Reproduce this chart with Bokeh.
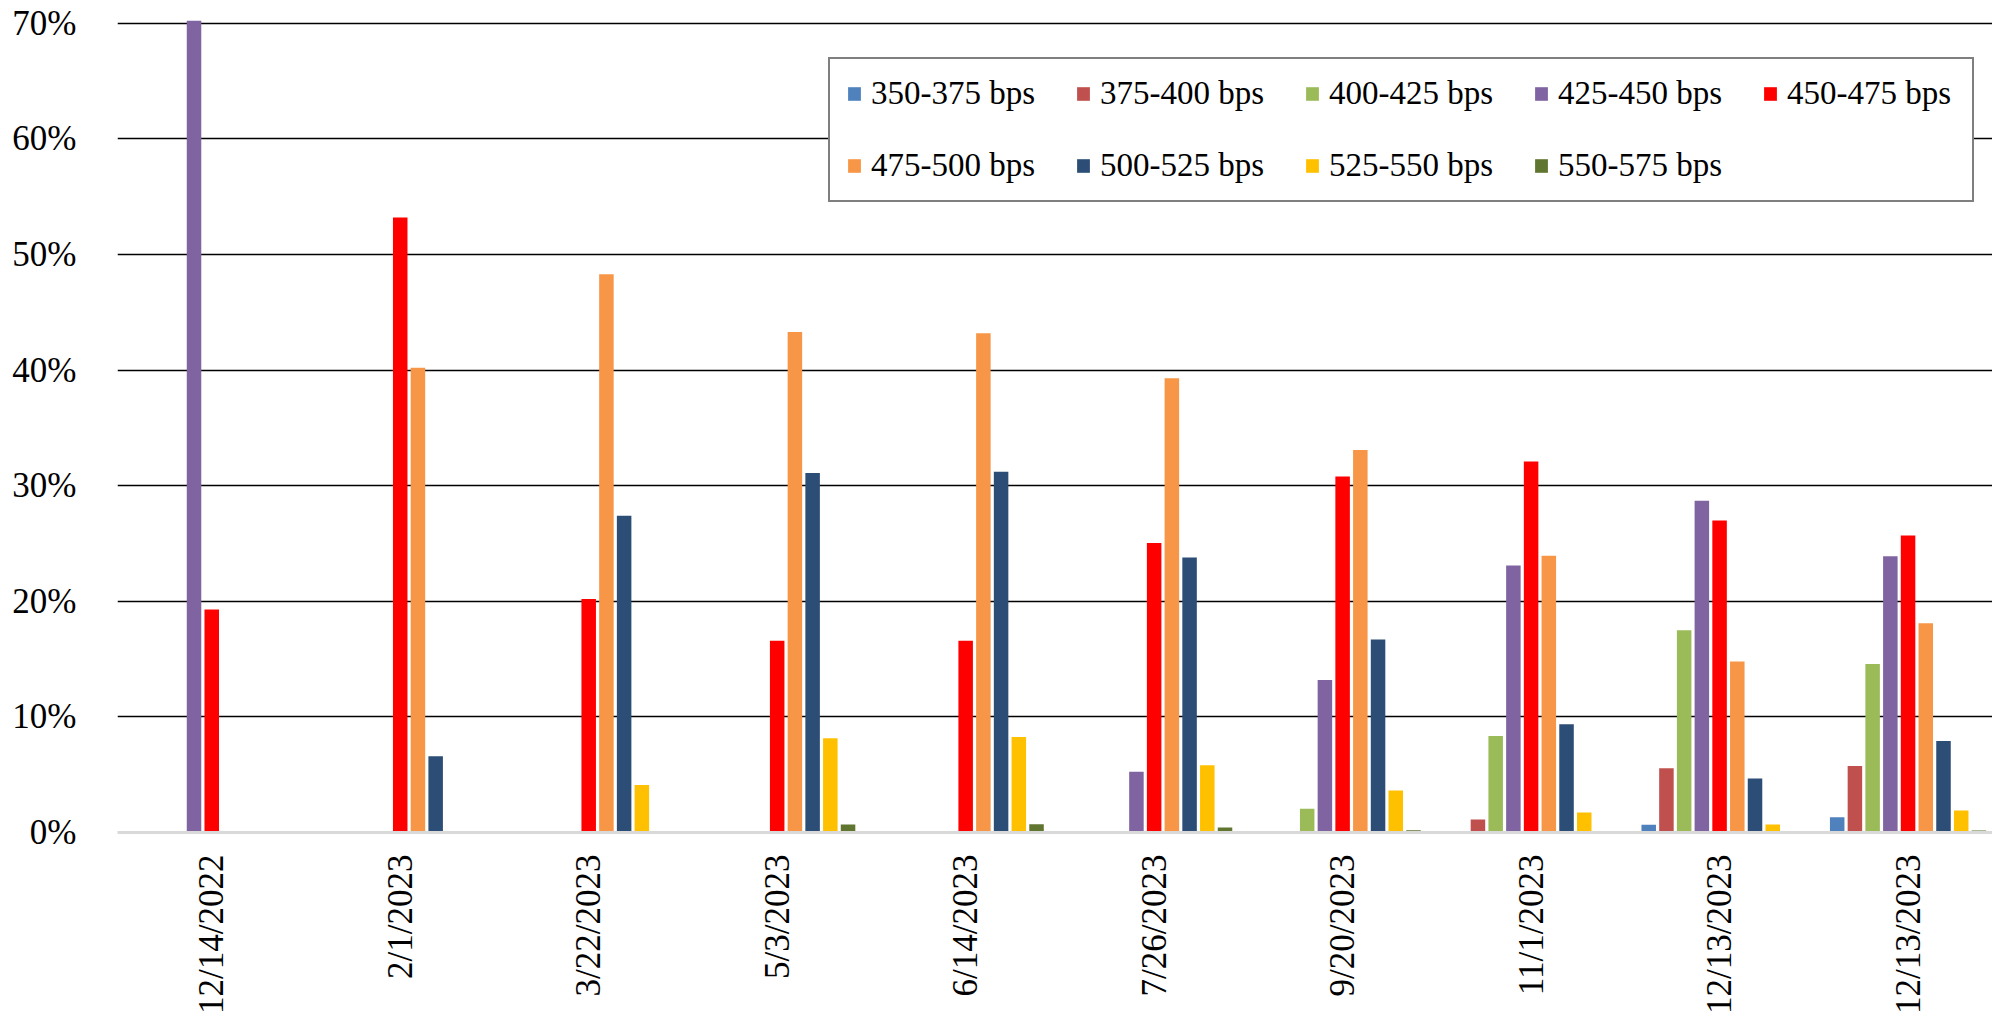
from bokeh.plotting import figure
from bokeh.models import (ColumnDataSource, FixedTicker, NumeralTickFormatter,
                          Legend, LegendItem, Range1d)
from bokeh.transform import dodge
from bokeh.embed import file_html
from bokeh.resources import INLINE

# Auction dates (the last date appears twice in the source table)
dates = ["12/14/2022", "2/1/2023", "3/22/2023", "5/3/2023", "6/14/2023",
         "7/26/2023", "9/20/2023", "11/1/2023", "12/13/2023", "12/13/2023"]

# Probability (%) of each target-rate range
bps_350_375 = [0, 0, 0, 0, 0, 0, 0, 0, 0.66, 1.33]
bps_375_400 = [0, 0, 0, 0, 0, 0, 0, 1.13, 5.55, 5.75]
bps_400_425 = [0, 0, 0, 0, 0, 0, 2.05, 8.35, 17.5, 14.57]
bps_425_450 = [70.3, 0, 0, 0, 0, 5.26, 13.2, 23.1, 28.7, 23.9]
bps_450_475 = [19.3, 53.2, 20.2, 16.6, 16.6, 25.05, 30.8, 32.1, 27.0, 25.7]
bps_475_500 = [0, 40.2, 48.3, 43.3, 43.2, 39.3, 33.1, 23.95, 14.8, 18.1]
bps_500_525 = [0, 6.6, 27.4, 31.1, 31.2, 23.8, 16.7, 9.36, 4.68, 7.92]
bps_525_550 = [0, 0, 4.1, 8.15, 8.27, 5.81, 3.64, 1.73, 0.69, 1.91]
bps_550_575 = [0, 0, 0, 0.69, 0.72, 0.43, 0.2, 0.08, 0.08, 0.17]

series_labels = ["350-375 bps", "375-400 bps", "400-425 bps", "425-450 bps",
                 "450-475 bps", "475-500 bps", "500-525 bps", "525-550 bps",
                 "550-575 bps"]
series_values = [bps_350_375, bps_375_400, bps_400_425, bps_425_450,
                 bps_450_475, bps_475_500, bps_500_525, bps_525_550,
                 bps_550_575]
colors = ["#4F81BD", "#C0504D", "#9BBB59", "#8064A2", "#FF0000",
          "#F79646", "#2C4D75", "#FFC000", "#5F7530"]

FONT = "'Liberation Serif', 'Times New Roman', serif"

data = {"idx": list(range(len(dates)))}
cols = []
for i, vals in enumerate(series_values):
    name = f"s{i}"
    cols.append(name)
    data[name] = [v / 100.0 for v in vals]
source = ColumnDataSource(data)

p = figure(width=1992, height=1016, output_backend="svg", toolbar_location=None,
           x_range=Range1d(-0.5, 9.448), y_range=Range1d(0, 0.7025),
           min_border_left=117, min_border_right=0, min_border_top=20,
           min_border_bottom=184, outline_line_color=None,
           background_fill_color="white", border_fill_color="white")

pitch = 0.094
bar_w = 0.077
renderers = []
for i, name in enumerate(cols):
    r = p.vbar(x=dodge("idx", (i - 4) * pitch, range=p.x_range), top=name,
               bottom=0, width=bar_w, source=source,
               fill_color=colors[i], line_color=None)
    renderers.append(r)

# axes
p.xaxis.ticker = FixedTicker(ticks=list(range(len(dates))))
p.xaxis.major_label_overrides = {i: d for i, d in enumerate(dates)}
p.xaxis.major_label_orientation = 3.14159265 / 2
p.xaxis.major_label_text_font = FONT
p.xaxis.major_label_text_font_size = "35px"
p.xaxis.major_label_text_color = "black"
p.xaxis.major_label_standoff = 16
p.xaxis.major_tick_line_color = None
p.xaxis.minor_tick_line_color = None
p.xaxis.axis_line_color = "#D9D9D9"
p.xaxis.axis_line_width = 3

pct_ticks = [0, 0.1, 0.2, 0.3, 0.4, 0.5, 0.6, 0.7]
p.yaxis.ticker = FixedTicker(ticks=pct_ticks)
p.yaxis.formatter = NumeralTickFormatter(format="0%")
p.yaxis.major_label_text_font = FONT
p.yaxis.major_label_text_font_size = "35px"
p.yaxis.major_label_text_color = "black"
p.yaxis.major_label_standoff = 35
p.yaxis.major_tick_line_color = None
p.yaxis.minor_tick_line_color = None
p.yaxis.axis_line_color = None

p.xgrid.grid_line_color = None
p.ygrid.ticker = FixedTicker(ticks=pct_ticks[1:])
p.ygrid.grid_line_color = "black"
p.ygrid.grid_line_width = 1.5
p.ygrid.level = "underlay"

legend = Legend(
    items=[LegendItem(label=lab, renderers=[r])
           for lab, r in zip(series_labels, renderers)],
    orientation="horizontal", ncols=5,
    location=(711, 630),
    label_text_font=FONT, label_text_font_size="33px",
    label_text_color="black",
    glyph_width=16, glyph_height=17, label_standoff=9,
    label_width=169, padding=16, spacing=35, margin=0,
    border_line_color="black", border_line_width=2,
    background_fill_color="white", background_fill_alpha=1.0,
)
p.add_layout(legend, "center")

open("out.html", "w").write(file_html(p, INLINE))
